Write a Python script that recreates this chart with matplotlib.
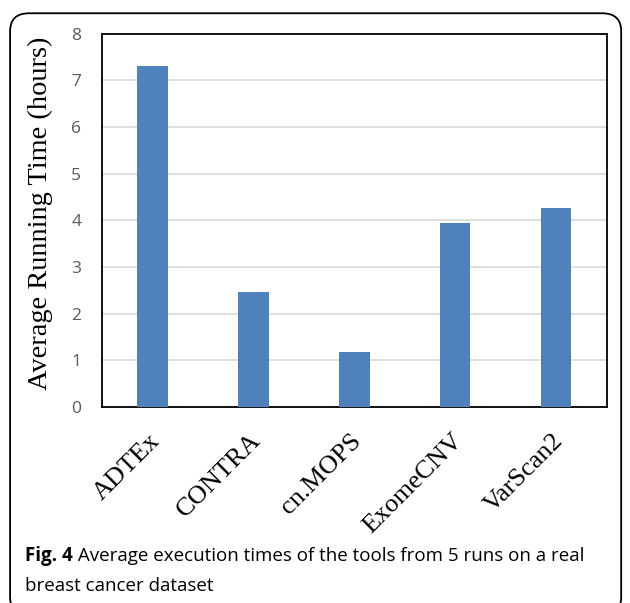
import matplotlib.pyplot as plt
from matplotlib.patches import FancyBboxPatch
from matplotlib.transforms import ScaledTranslation

tools = ["ADTEx", "CONTRA", "cn.MOPS", "ExomeCNV", "VarScan2"]
hours = [7.3, 2.47, 1.19, 3.95, 4.27]
yticks = [0, 1, 2, 3, 4, 5, 6, 7, 8]

caption_bold = "Fig. 4"
caption_rest = " Average execution times of the tools from 5 runs on a real"
caption_line2 = "breast cancer dataset"

fig = plt.figure(figsize=(6.3, 6.03), dpi=100)
ax = fig.add_axes([0.162, 0.325, 0.801, 0.619])

# outer rounded frame around figure + caption
frame = FancyBboxPatch((0.016, -0.02), 0.97, 0.998,
                       boxstyle="round,pad=0,rounding_size=0.03",
                       transform=fig.transFigure, fill=False,
                       edgecolor="black", linewidth=1.3, clip_on=False)
fig.patches.append(frame)

x = range(len(tools))
ax.bar(x, hours, width=0.3, color="#4F81BD", zorder=3)

ax.set_xlim(-0.5, len(tools) - 0.5)
ax.set_ylim(0, 8)
ax.set_yticks(yticks)
ax.set_yticklabels([str(v) for v in yticks], fontsize=12.5,
                   color="#595959", family="Open Sans")
ax.tick_params(axis="y", length=0, pad=15)
ax.tick_params(axis="x", length=0, pad=4)
ax.grid(axis="y", color="#d9d9d9", linewidth=1.2, zorder=0)
ax.set_xticks(list(x))
ax.set_xticklabels(tools, rotation=45, ha="right", va="top",
                   rotation_mode="anchor", fontsize=19,
                   family="Liberation Serif")
shift = ScaledTranslation(-0.04, -0.17, fig.dpi_scale_trans)
for lbl in ax.get_xticklabels():
    lbl.set_transform(lbl.get_transform() + shift)

ax.set_ylabel("Average Running Time (hours)", fontsize=20.4,
              family="Liberation Serif")
ax.yaxis.set_label_coords(-0.097, 0.519)

for s in ax.spines.values():
    s.set_color("black")
    s.set_linewidth(1.3)

# caption, bold "Fig. 4" followed by regular text
t1 = fig.text(0.04, 0.07, caption_bold, fontsize=13.5, fontweight="bold",
              family="Open Sans", va="baseline")
fig.canvas.draw()
bb = t1.get_window_extent().transformed(fig.transFigure.inverted())
fig.text(bb.x1, 0.07, caption_rest, fontsize=13.5,
         family="Open Sans", va="baseline")
fig.text(0.04, 0.02, caption_line2, fontsize=13.5,
         family="Open Sans", va="baseline")

fig.savefig("out.png", dpi=100)
